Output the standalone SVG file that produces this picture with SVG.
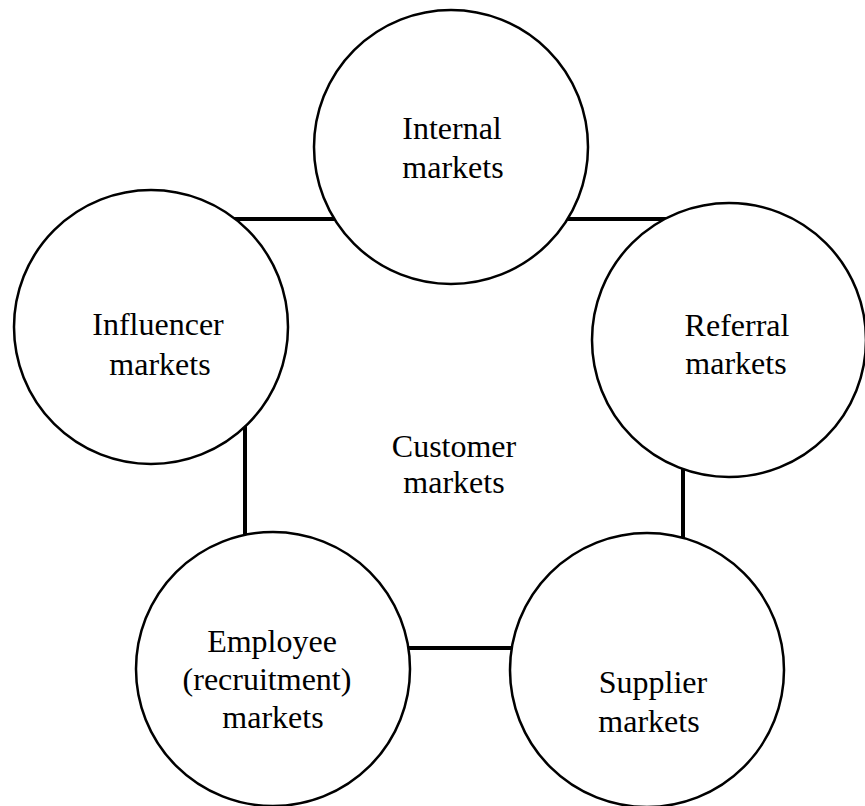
<svg xmlns="http://www.w3.org/2000/svg" width="865" height="806" viewBox="0 0 865 806">
  <style>
    .link { stroke: #000; stroke-width: 4; stroke-linecap: butt; fill: none; }
    .ring { fill: #fff; stroke: #000; stroke-width: 2.5; }
    .label { font-family: "Liberation Serif", "Times New Roman", serif; font-size: 32px; fill: #000; text-anchor: middle; }
  </style>
  <rect width="865" height="806" fill="#fff"/>

  <!-- connectors (drawn first, circles cover the ends) -->
  <g id="connectors">
    <line class="link" x1="230" y1="219" x2="340" y2="219"/>
    <line class="link" x1="560" y1="219" x2="668" y2="219"/>
    <line class="link" x1="683" y1="460" x2="683" y2="542"/>
    <line class="link" x1="404" y1="648" x2="518" y2="648"/>
    <line class="link" x1="245" y1="425" x2="245" y2="540"/>
  </g>

  <g id="internal">
    <circle class="ring" cx="451" cy="147" r="137"/>
    <text class="label" x="452" y="139">Internal</text>
    <text class="label" x="453" y="178">markets</text>
  </g>

  <g id="referral">
    <circle class="ring" cx="729" cy="340" r="137"/>
    <text class="label" x="737" y="336">Referral</text>
    <text class="label" x="736" y="374">markets</text>
  </g>

  <g id="influencer">
    <circle class="ring" cx="151" cy="327" r="137"/>
    <text class="label" x="158" y="335">Influencer</text>
    <text class="label" x="160" y="375">markets</text>
  </g>

  <g id="employee">
    <circle class="ring" cx="273" cy="669" r="137"/>
    <text class="label" x="272" y="652">Employee</text>
    <text class="label" x="267" y="690">(recruitment)</text>
    <text class="label" x="273" y="728">markets</text>
  </g>

  <g id="supplier">
    <circle class="ring" cx="647" cy="670" r="137"/>
    <text class="label" x="653" y="693">Supplier</text>
    <text class="label" x="649" y="732">markets</text>
  </g>

  <g id="customer">
    <text class="label" x="454" y="457">Customer</text>
    <text class="label" x="454" y="493">markets</text>
  </g>
</svg>
